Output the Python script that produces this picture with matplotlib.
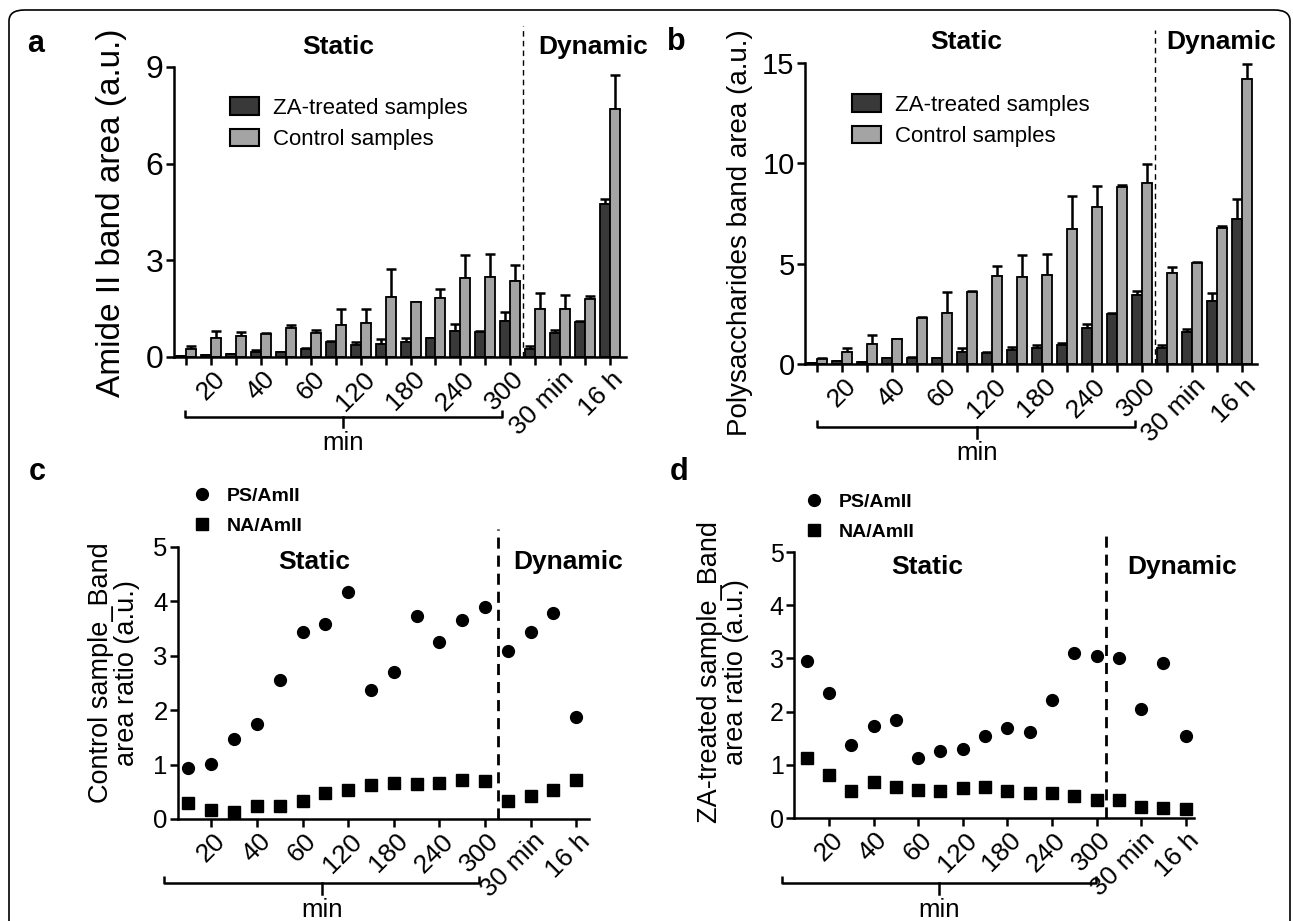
import matplotlib
matplotlib.use("Agg")
import matplotlib.pyplot as plt
import matplotlib.transforms as mtransforms
import numpy as np
from matplotlib.lines import Line2D
from matplotlib.patches import FancyBboxPatch, Patch

plt.rcParams["font.family"] = ["Liberation Sans", "DejaVu Sans"]

# 18 time points: 14 static (min) + 4 dynamic, labels on every other one
tick_labels = ["", "20", "", "40", "", "60", "", "120", "", "180", "", "240",
               "", "300", "", "30 min", "", "16 h"]

# panel a: Amide II band area
amide_za = [0.03, 0.05, 0.09, 0.16, 0.14, 0.25, 0.45, 0.37, 0.41, 0.45, 0.58, 0.82,
            0.79, 1.12, 0.25, 0.76, 1.10, 4.75]
amide_za_err = [0.0, 0.0, 0.01, 0.05, 0.01, 0.03, 0.04, 0.10, 0.15, 0.14, 0.02, 0.19,
                0.02, 0.27, 0.08, 0.09, 0.01, 0.15]
amide_ctrl = [0.25, 0.58, 0.66, 0.71, 0.89, 0.74, 1.00, 1.05, 1.86, 1.70, 1.83, 2.44,
              2.48, 2.36, 1.49, 1.49, 1.81, 7.70]
amide_ctrl_err = [0.08, 0.24, 0.11, 0.03, 0.09, 0.11, 0.48, 0.44, 0.86, 0.02, 0.27, 0.72,
                  0.73, 0.51, 0.49, 0.42, 0.09, 1.05]

# panel b: polysaccharides band area
poly_za = [0.07, 0.15, 0.12, 0.28, 0.30, 0.28, 0.58, 0.53, 0.68, 0.82, 0.97, 1.81,
           2.48, 3.46, 0.78, 1.58, 3.16, 7.25]
poly_za_err = [0.0, 0.0, 0.0, 0.0, 0.03, 0.02, 0.24, 0.09, 0.19, 0.15, 0.09, 0.19,
               0.07, 0.18, 0.19, 0.18, 0.38, 0.97]
poly_ctrl = [0.25, 0.62, 1.00, 1.23, 2.28, 2.53, 3.58, 4.38, 4.36, 4.46, 6.72, 7.82,
             8.84, 9.04, 4.53, 5.01, 6.76, 14.20]
poly_ctrl_err = [0.03, 0.20, 0.45, 0.04, 0.04, 1.05, 0.07, 0.48, 1.06, 1.03, 1.63, 1.03,
                 0.06, 0.93, 0.28, 0.07, 0.10, 0.76]

# panel c: control sample ratios
ctrl_ps = [0.93, 1.02, 1.47, 1.75, 2.55, 3.43, 3.58, 4.18, 2.38, 2.70, 3.74, 3.26,
           3.66, 3.89, 3.09, 3.43, 3.79, 1.87]
ctrl_na = [0.29, 0.16, 0.13, 0.23, 0.23, 0.34, 0.47, 0.54, 0.62, 0.66, 0.65, 0.67,
           0.71, 0.69, 0.34, 0.43, 0.53, 0.72]

# panel d: ZA-treated sample ratios
za_ps = [2.96, 2.35, 1.38, 1.72, 1.84, 1.13, 1.26, 1.30, 1.54, 1.70, 1.61, 2.21,
         3.11, 3.05, 3.00, 2.04, 2.91, 1.55]
za_na = [1.12, 0.80, 0.51, 0.68, 0.58, 0.53, 0.51, 0.56, 0.58, 0.51, 0.47, 0.47,
         0.41, 0.33, 0.34, 0.21, 0.18, 0.16]

W, H = 1293, 921
DARK, LIGHT = "#393939", "#a4a4a4"

fig = plt.figure(figsize=(W / 100, H / 100), dpi=100)


def fx(x):
    return x / W


def fy(y):
    return 1 - y / H


def make_axes(left, top, right, bottom):
    return fig.add_axes([fx(left), fy(bottom), (right - left) / W, (bottom - top) / H])


def style_axes(ax, lw=1.8, tick_size=22):
    for side in ("top", "right"):
        ax.spines[side].set_visible(False)
    for side in ("left", "bottom"):
        ax.spines[side].set_linewidth(lw)
    ax.tick_params(axis="both", direction="out", length=5.5, width=lw, colors="black")
    ax.tick_params(axis="y", labelsize=tick_size, pad=2)


def set_xlabels(ax, positions, labels, size):
    ax.set_xticks(positions)
    ax.set_xticklabels(labels, rotation=45, ha="right", va="center",
                       rotation_mode="anchor", fontsize=size)
    offset = mtransforms.ScaledTranslation(10 / 100, -6 / 100, fig.dpi_scale_trans)
    for lab in ax.get_xticklabels():
        lab.set_transform(lab.get_transform() + offset)


def bracket(ax, x0, x1, xm, y_axes, drop):
    trans = mtransforms.blended_transform_factory(ax.transData, ax.transAxes)
    ax.plot([x0, x0, x1, x1], [y_axes + 0.025, y_axes, y_axes, y_axes + 0.025],
            color="black", lw=1.8, transform=trans, clip_on=False, solid_capstyle="butt")
    ax.plot([xm, xm], [y_axes, y_axes - drop], color="black", lw=1.8,
            transform=trans, clip_on=False)


def divider(ax, x, top, lw, dashes):
    trans = mtransforms.blended_transform_factory(ax.transData, ax.transAxes)
    ax.plot([x, x], [0, top], color="black", lw=lw, dashes=dashes,
            transform=trans, clip_on=False)


def bar_panel(ax, za, za_err, ctrl, ctrl_err):
    x = np.arange(len(za))
    w = 0.4
    ax.errorbar(x - w / 2, za, yerr=[np.zeros(len(za)), za_err], fmt="none",
                ecolor="black", elinewidth=1.8, capsize=3.5, capthick=1.8, zorder=1)
    ax.errorbar(x + w / 2, ctrl, yerr=[np.zeros(len(ctrl)), ctrl_err], fmt="none",
                ecolor="black", elinewidth=1.8, capsize=3.5, capthick=1.8, zorder=1)
    ax.bar(x - w / 2, za, width=w, color=DARK, edgecolor="black", linewidth=1.3, zorder=2)
    ax.bar(x + w / 2, ctrl, width=w, color=LIGHT, edgecolor="black", linewidth=1.3, zorder=2)
    return x


def bar_legend(ax, left, top, size):
    handles = [Patch(facecolor=DARK, edgecolor="black", linewidth=1.5),
               Patch(facecolor=LIGHT, edgecolor="black", linewidth=1.5)]
    ax.legend(handles, ["ZA-treated samples", "Control samples"], loc="upper left",
              bbox_to_anchor=(fx(left), fy(top)), bbox_transform=fig.transFigure,
              frameon=False, fontsize=size, handlelength=1.3, handleheight=0.85,
              handletextpad=0.65, labelspacing=0.45, borderpad=0, borderaxespad=0)


def dot_legend(ax, left, top):
    handles = [Line2D([], [], ls="none", marker="o", ms=8.5, color="black"),
               Line2D([], [], ls="none", marker="s", ms=8, color="black")]
    ax.legend(handles, ["PS/AmII", "NA/AmII"], loc="upper left",
              bbox_to_anchor=(fx(left), fy(top)), bbox_transform=fig.transFigure,
              frameon=False, prop={"weight": "bold", "size": 14}, handlelength=0.8,
              handletextpad=0.9, labelspacing=0.65, borderpad=0, borderaxespad=0)


# ---- panel a ----
ax_a = make_axes(174, 67, 626, 357)
x = bar_panel(ax_a, amide_za, amide_za_err, amide_ctrl, amide_ctrl_err)
ax_a.set_xlim(-0.5, 17.65)
ax_a.set_ylim(0, 9)
ax_a.set_yticks([0, 3, 6, 9])
style_axes(ax_a, tick_size=23)
set_xlabels(ax_a, x, tick_labels, 19)
ax_a.set_ylabel("Amide II band area (a.u.)", fontsize=24)
ax_a.yaxis.set_label_coords(fx(112), fy(213), transform=fig.transFigure)
ax_a.yaxis.label.set_va("center")
bracket(ax_a, -0.06, 12.67, 6.29, -0.207, 0.035)
divider(ax_a, 13.5, 1.14, 1.0, (4, 3))
bar_legend(ax_a, 230, 97, 16)

# ---- panel b ----
ax_b = make_axes(805, 63, 1257, 364)
x = bar_panel(ax_b, poly_za, poly_za_err, poly_ctrl, poly_ctrl_err)
ax_b.set_xlim(-0.48, 17.6)
ax_b.set_ylim(0, 15)
ax_b.set_yticks([0, 5, 10, 15])
style_axes(ax_b, tick_size=21)
set_xlabels(ax_b, x, tick_labels, 19)
ax_b.set_ylabel("Polysaccharides band area (a.u.)", fontsize=20)
ax_b.yaxis.set_label_coords(fx(740), fy(233), transform=fig.transFigure)
ax_b.yaxis.label.set_va("center")
bracket(ax_b, 0.0, 12.7, 6.4, -0.21, 0.035)
divider(ax_b, 13.52, 1.11, 1.0, (4, 3))
bar_legend(ax_b, 852, 94, 16)

# ---- panel c ----
ax_c = make_axes(178, 547, 589, 819)
xs = np.arange(len(ctrl_ps))
ax_c.plot(xs, ctrl_ps, ls="none", marker="o", ms=8.5, color="black", clip_on=False)
ax_c.plot(xs, ctrl_na, ls="none", marker="s", ms=8, color="black", clip_on=False)
ax_c.set_xlim(-0.46, 17.56)
ax_c.set_ylim(0, 5)
ax_c.set_yticks([0, 1, 2, 3, 4, 5])
style_axes(ax_c, tick_size=18.5)
set_xlabels(ax_c, xs[1::2], tick_labels[1::2], 19)
ax_c.set_ylabel("Control sample_Band\narea ratio (a.u.)", fontsize=19.5, linespacing=1.0)
ax_c.yaxis.set_label_coords(fx(114), fy(673), transform=fig.transFigure)
ax_c.yaxis.label.set_va("center")
bracket(ax_c, -1.08, 12.74, 5.87, -0.235, 0.04)
divider(ax_c, 13.55, 1.066, 2.0, (4, 2.5))
dot_legend(ax_c, 194, 487)

# ---- panel d ----
ax_d = make_axes(794, 552, 1194, 818)
xs = np.arange(len(za_ps))
ax_d.plot(xs, za_ps, ls="none", marker="o", ms=8.5, color="black", clip_on=False)
ax_d.plot(xs, za_na, ls="none", marker="s", ms=8, color="black", clip_on=False)
ax_d.set_xlim(-0.57, 17.37)
ax_d.set_ylim(0, 5)
ax_d.set_yticks([0, 1, 2, 3, 4, 5])
style_axes(ax_d, tick_size=18)
set_xlabels(ax_d, xs[1::2], tick_labels[1::2], 19)
ax_d.set_ylabel("ZA-treated sample_Band\narea ratio (a.u.)", fontsize=19.5, linespacing=1.0)
ax_d.yaxis.set_label_coords(fx(723), fy(672), transform=fig.transFigure)
ax_d.yaxis.label.set_va("center")
bracket(ax_d, -1.11, 12.97, 5.94, -0.244, 0.04)
divider(ax_d, 13.43, 1.06, 2.0, (4, 2.5))
dot_legend(ax_d, 806, 493)

# ---- figure texts ----
bold = {"fontweight": "bold", "ha": "center", "va": "center"}
for (px, py), s in [((338, 47), "Static"), ((593, 47), "Dynamic"),
                    ((966, 42), "Static"), ((1221, 42), "Dynamic"),
                    ((314, 562), "Static"), ((568, 562), "Dynamic"),
                    ((927, 567), "Static"), ((1182, 567), "Dynamic")]:
    fig.text(fx(px), fy(py), s, fontsize=19, **bold)

for px, py in [(343, 443), (977, 453), (322, 910), (939, 910)]:
    fig.text(fx(px), fy(py), "min", fontsize=18.5, ha="center", va="center")

for (px, py), s in [((36, 44), "a"), ((676, 42), "b"), ((37, 472), "c"), ((679, 472), "d")]:
    fig.text(fx(px), fy(py), s, fontsize=22, **bold)

# rounded frame around the whole figure
frame = FancyBboxPatch((fx(9), fy(960)), fx(1290) - fx(9), fy(10) - fy(960),
                       boxstyle="round,pad=0,rounding_size=0.012",
                       transform=fig.transFigure, facecolor="none",
                       edgecolor="black", linewidth=1.2, clip_on=False)
fig.patches.append(frame)

fig.savefig("out.png", dpi=100)
